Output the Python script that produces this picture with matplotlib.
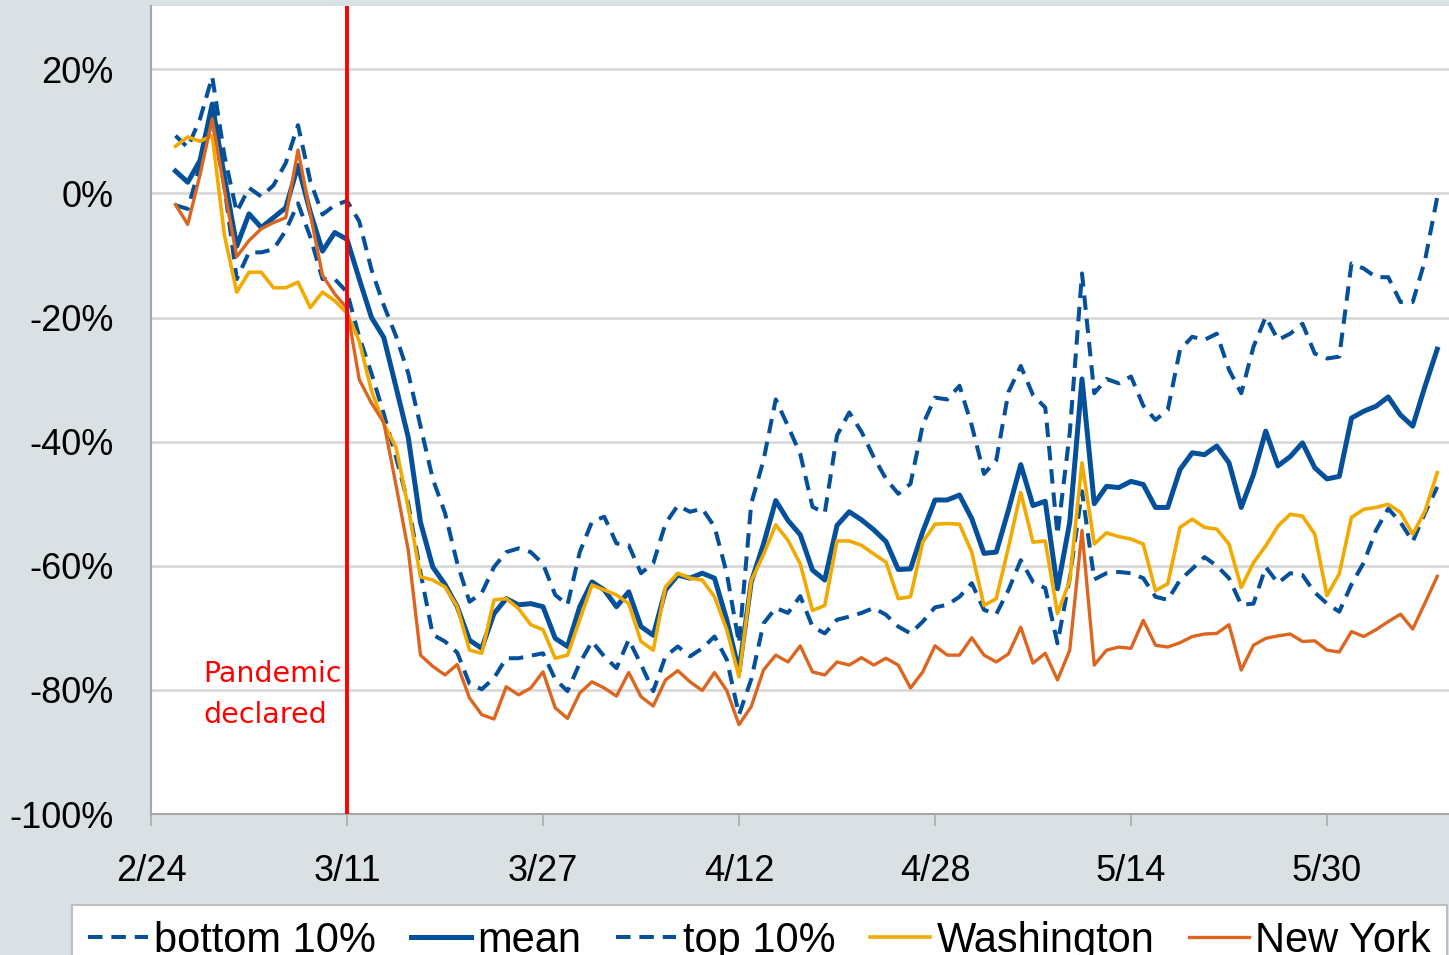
import numpy as np
import pandas as pd
import matplotlib
matplotlib.use('Agg')
import matplotlib.pyplot as plt
import matplotlib.dates as mdates
from matplotlib.ticker import FuncFormatter

# daily values (% change), 2/26 .. 6/8
dates = pd.date_range('2020-02-26', periods=104, freq='D')

bottom10 = [-1.9, -2.5, 4.5, 12.0, 1.0, -13.8, -9.5, -9.5, -9.0, -6.0, -1.6, -7.0, -13.8, -13.8, -15.9,
            -23.1, -29.0, -35.5, -42.5, -50.0, -61.1, -71.1, -72.2, -74.0, -79.0, -79.9, -78.1, -74.9,
            -74.9, -74.5, -74.1, -78.3, -80.2, -75.7, -72.2, -74.6, -76.5, -71.9, -75.9, -80.2, -74.6,
            -73.0, -74.6, -73.3, -71.4, -75.1, -84.0, -78.3, -69.3, -66.8, -67.6, -64.9, -69.8, -70.9,
            -68.7, -68.2, -67.6, -66.8, -67.9, -69.8, -70.9, -69.0, -66.7, -66.3, -65.0, -62.8, -67.1,
            -67.8, -63.9, -59.1, -62.6, -63.6, -72.5, -62.0, -48.0, -62.2, -61.2, -61.0, -61.2, -62.0,
            -65.0, -65.5, -62.3, -60.5, -58.6, -60.0, -62.0, -66.3, -66.1, -60.2, -62.8, -61.2, -61.5,
            -64.3, -66.1, -67.4, -63.0, -59.5, -54.3, -50.8, -53.0, -56.1, -51.5, -47.3]

mean = [3.6, 1.8, 5.3, 14.4, 2.5, -8.5, -3.3, -5.5, -3.9, -2.3, 4.5, -3.0, -9.3, -6.3, -7.4,
        -13.8, -20.0, -23.2, -31.2, -39.3, -53.0, -60.2, -63.0, -66.6, -72.0, -73.3, -67.7, -65.3,
        -66.3, -66.1, -66.6, -71.7, -73.0, -66.6, -62.6, -63.9, -66.6, -64.2, -69.8, -71.2, -63.9,
        -61.5, -62.0, -61.2, -62.0, -68.7, -77.0, -62.6, -56.5, -49.5, -52.7, -55.0, -60.7, -62.3,
        -53.5, -51.3, -52.6, -54.2, -56.1, -60.6, -60.5, -54.5, -49.4, -49.4, -48.6, -52.4, -58.0,
        -57.8, -51.0, -43.7, -50.3, -49.6, -63.7, -53.0, -29.9, -50.0, -47.2, -47.4, -46.4, -46.9,
        -50.6, -50.6, -44.5, -41.8, -42.1, -40.7, -43.4, -50.6, -45.3, -38.3, -43.9, -42.4, -40.2,
        -44.2, -46.0, -45.6, -36.2, -35.1, -34.3, -32.8, -35.7, -37.5, -31.1, -25.1]

top10 = [9.3, 7.4, 12.0, 18.8, 6.0, -3.0, 0.9, -0.5, 1.3, 4.9, 11.0, 2.0, -3.4, -1.9, -1.2,
         -4.5, -12.3, -18.0, -23.0, -29.0, -37.5, -46.0, -51.5, -59.6, -65.8, -64.4, -60.2, -57.8,
         -57.2, -57.8, -59.7, -64.7, -66.3, -57.8, -52.9, -52.1, -56.4, -56.7, -61.2, -59.6, -53.2,
         -50.3, -51.3, -50.8, -53.7, -61.2, -72.5, -50.0, -43.0, -33.2, -37.5, -42.0, -50.5, -51.5,
         -39.0, -35.3, -38.4, -42.5, -46.0, -48.4, -46.8, -37.3, -32.9, -33.2, -31.0, -37.4, -45.2,
         -43.0, -32.0, -27.8, -32.5, -34.5, -55.0, -38.6, -12.9, -32.2, -29.9, -30.6, -29.5, -34.2,
         -36.5, -34.9, -25.2, -23.1, -23.6, -22.6, -28.4, -32.2, -24.7, -19.9, -23.6, -22.6, -21.0,
         -25.8, -26.6, -26.3, -11.3, -12.1, -13.5, -13.5, -17.5, -17.5, -10.8, -0.6]

washington = [7.6, 9.1, 8.4, 9.3, -6.8, -15.9, -12.7, -12.7, -15.2, -15.2, -14.3, -18.4, -15.9, -17.3, -19.3,
              -23.8, -31.8, -37.1, -40.9, -50.6, -61.8, -62.3, -63.4, -66.6, -73.6, -74.1, -65.5, -65.3,
              -66.9, -69.5, -70.3, -74.9, -74.4, -68.7, -63.1, -63.9, -64.7, -66.1, -72.2, -73.6, -63.4,
              -61.2, -62.0, -62.3, -65.0, -70.3, -77.9, -62.4, -58.2, -53.4, -55.9, -59.7, -67.2, -66.4,
              -56.0, -56.0, -56.7, -58.1, -59.4, -65.3, -65.0, -56.2, -53.3, -53.2, -53.3, -57.8, -66.4,
              -65.3, -57.0, -48.2, -56.2, -56.0, -67.7, -62.4, -43.4, -56.5, -54.7, -55.3, -55.7, -56.5,
              -64.0, -62.9, -53.8, -52.5, -53.8, -54.1, -56.5, -63.5, -59.5, -56.8, -53.6, -51.7, -52.0,
              -54.9, -64.8, -61.3, -52.2, -50.9, -50.6, -50.1, -51.4, -54.9, -51.2, -45.0]

new_york = [-1.8, -5.0, 3.0, 12.0, 0.5, -10.2, -7.6, -5.7, -4.7, -3.9, 7.0, -3.3, -13.2, -16.2, -18.5,
            -30.0, -33.8, -36.9, -47.0, -57.5, -74.4, -76.2, -77.6, -75.9, -81.3, -84.0, -84.7, -79.5,
            -80.8, -79.7, -77.1, -82.9, -84.6, -80.5, -78.7, -79.7, -81.0, -77.2, -81.1, -82.6, -78.4,
            -76.9, -78.7, -80.1, -77.2, -80.1, -85.6, -82.7, -76.8, -74.4, -75.5, -72.9, -77.1, -77.6,
            -75.5, -76.0, -74.8, -76.0, -74.9, -76.0, -79.7, -77.1, -72.9, -74.4, -74.4, -71.6, -74.4,
            -75.5, -74.2, -69.9, -75.7, -74.1, -78.4, -73.6, -54.3, -76.0, -73.6, -73.1, -73.3, -68.8,
            -72.8, -73.1, -72.4, -71.4, -71.0, -70.9, -69.5, -76.8, -72.8, -71.7, -71.3, -71.0, -72.2,
            -72.1, -73.6, -73.9, -70.6, -71.4, -70.3, -69.0, -67.8, -70.2, -66.0, -61.7]

tick_dates = pd.date_range('2020-02-24', periods=7, freq='16D')
pandemic_day = pd.Timestamp('2020-03-11')

BLUE = '#05509b'
YELLOW = '#f2aa00'
ORANGE = '#dc6620'
BG = '#d9e1e4'

plt.rcParams['font.family'] = ['Liberation Sans', 'DejaVu Sans']

fig = plt.figure(figsize=(14.49, 9.55), dpi=100, facecolor=BG)
ax = fig.add_axes([151 / 1449, 1 - 814 / 955, 1 - 151 / 1449, (814 - 6) / 955])
ax.set_facecolor('white')

dash = (0, (3.6, 2.2))
ax.plot(dates, bottom10, color=BLUE, lw=2.9, linestyle=dash, label='bottom 10%')
ax.plot(dates, mean, color=BLUE, lw=3.6, label='mean')
ax.plot(dates, top10, color=BLUE, lw=2.9, linestyle=dash, label='top 10%')
ax.plot(dates, washington, color=YELLOW, lw=2.6, label='Washington')
ax.plot(dates, new_york, color=ORANGE, lw=2.4, label='New York')

ax.axvline(pandemic_day, color='red', lw=2.8, zorder=5)
x0 = mdates.date2num(tick_dates[0])
ax.text(x0 + 4.3, -80.8, 'Pandemic\ndeclared', color='red', fontsize=20.5,
        family=['DejaVu Sans'], va='center', ha='left', linespacing=1.6)

ax.set_xlim(x0, x0 + 105.96)
ax.set_ylim(-100, 30.2)
ax.set_yticks(np.arange(-100, 21, 20))
ax.yaxis.set_major_formatter(FuncFormatter(lambda v, p: f'{v:.0f}%'))
ax.set_xticks(tick_dates)
ax.set_xticklabels([f'{d.month}/{d.day}' for d in tick_dates])

ax.grid(axis='y', color='#d9d9d9', lw=2)
ax.set_axisbelow(True)
for s in ['top', 'right']:
    ax.spines[s].set_visible(False)
for s in ['left', 'bottom']:
    ax.spines[s].set_color('#a6a6a6')
    ax.spines[s].set_linewidth(1.5)

ax.tick_params(axis='y', length=0, pad=27, labelsize=26)
ax.tick_params(axis='x', direction='out', length=8.6, width=1.1, color='#a6a6a6',
               pad=20, labelsize=26)

# legend sits at the bottom edge and is partly cut off, as in the original
leg = fig.legend(loc='upper left', bbox_to_anchor=(72 / 1449, 1 - 905 / 955 - 0.2, 1375 / 1449, 0.2),
                 bbox_transform=fig.transFigure, ncol=5, mode='expand', fontsize=30,
                 handlelength=1.45, handletextpad=0.15, borderpad=0.38, borderaxespad=0,
                 frameon=True, fancybox=False, edgecolor='#bfbfbf', facecolor='white',
                 framealpha=1)
leg.get_frame().set_linewidth(1.5)

fig.savefig('out.png', dpi=100, facecolor=BG)
